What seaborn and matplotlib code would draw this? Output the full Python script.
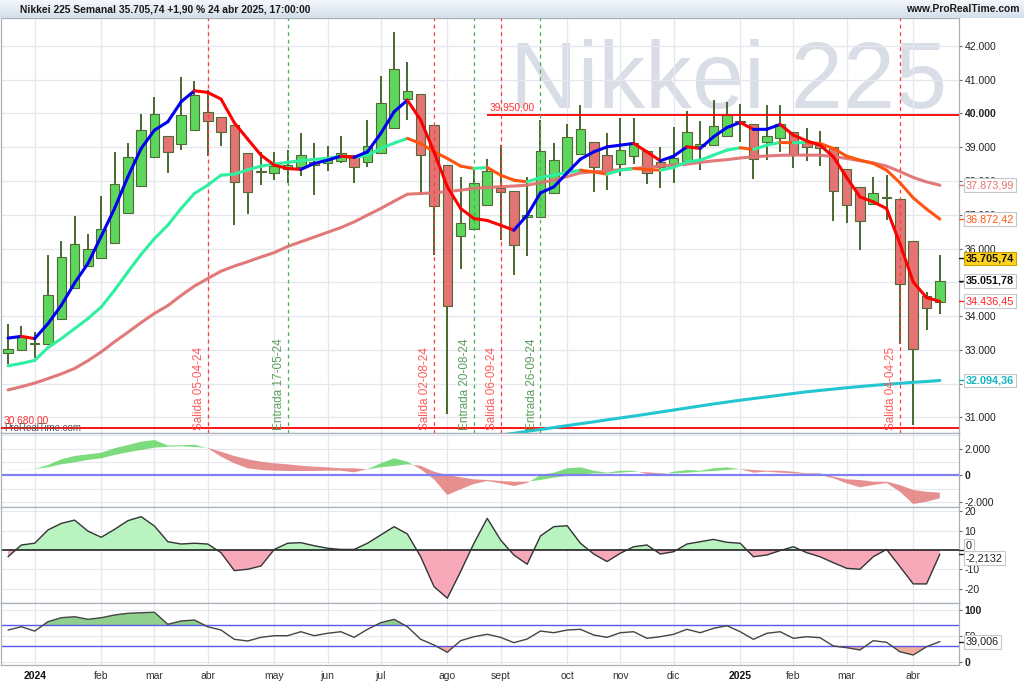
import numpy as np
import pandas as pd
import matplotlib
matplotlib.use("Agg")
import matplotlib.pyplot as plt
import matplotlib.transforms as mtransforms
from matplotlib.collections import LineCollection
from matplotlib.colors import LinearSegmentedColormap
import seaborn as sns

# semanas (lunes) del grafico, velas Heikin-Ashi leidas a ojo
weeks = pd.date_range("2023-12-18", "2025-04-21", freq="W-MON")

opens = [32907, 32987, 33170, 33185, 33926, 34844, 35485, 35733, 36166, 37055, 37855, 38696, 39327, 39090,
         39505, 40030, 39881, 39653, 38815, 38260, 38240, 38350, 38418, 38566, 38537, 38596, 38765, 38566,
         38815, 39556, 40424, 40572, 39653, 38468, 36364, 36572, 37283, 37796, 37707, 36919, 36936, 37630,
         38270, 38794, 39141, 38765, 38498, 38735, 38892, 38566, 38498, 38596, 39031, 39061, 39330, 39740,
         39674, 39159, 39259, 39455, 39141, 39061, 38993, 38341, 37807, 37304, 37490, 37481, 36216, 34596,
         34418]
highs = [33778, 33707, 33529, 35822, 36216, 36957, 36424, 37550, 38844, 39129, 39979, 40474, 39327, 41084,
         40966, 40690, 39881, 39653, 38815, 38844, 38844, 38913, 39425, 39129, 39031, 39327, 38765, 39801,
         41105, 42418, 41511, 40572, 39653, 38468, 38121, 38370, 38646, 39061, 37707, 38104, 39801, 39129,
         39674, 40246, 39141, 39425, 39852, 39852, 38892, 39011, 39603, 40077, 39781, 40394, 40330, 40276,
         39674, 40246, 40246, 39455, 39556, 39484, 38993, 38341, 37807, 38121, 38163, 37481, 36216, 34714,
         35822]
lows = [32572, 32960, 32759, 33185, 33926, 34844, 35485, 35733, 36166, 37055, 37855, 38696, 38222, 38913,
        39505, 38744, 39040, 36690, 37037, 37876, 38024, 37926, 38142, 37580, 38299, 38537, 37926, 38400,
        38815, 39556, 39801, 37580, 35801, 31111, 35407, 36572, 37283, 36246, 35209, 35781, 36936, 37630,
        38270, 38794, 37677, 37727, 38142, 38498, 37905, 37778, 37926, 38596, 38320, 39061, 39330, 39141,
        38044, 38616, 38862, 38370, 38596, 38439, 36818, 36770, 35950, 37304, 36859, 33185, 30765, 33600,
        34053]
closes = [33037, 33401, 33200, 34637, 35751, 36148, 35979, 36593, 37905, 38696, 39505, 39970, 38844, 39950,
          40542, 39772, 39437, 37973, 37659, 38280, 38447, 38468, 38765, 38468, 38637, 38815, 38418, 39040,
          40314, 41304, 40670, 38765, 37253, 34290, 36770, 37950, 38290, 37677, 36118, 37007, 38892, 38618,
          39307, 39526, 38400, 38240, 38913, 39129, 38240, 38400, 38684, 39455, 39081, 39633, 39950, 39760,
          38637, 39336, 39674, 38794, 39011, 38963, 37698, 37283, 36809, 37630, 37510, 34963, 33017, 34252,
          35051.78]

ma_fast = [33350, 33400, 33333, 33778, 34320, 34981, 35556, 36364, 37185, 38121, 38963, 39505, 39751, 40344,
           40670, 40622, 40424, 39721, 39240, 38765, 38468, 38370, 38341, 38519, 38616, 38735, 38700, 38862,
           39407, 40047, 40394, 39801, 38862, 37826, 37185, 36889, 36830, 36690, 36543, 36987, 37647, 37826,
           38240, 38646, 38862, 39010, 39061, 39111, 38862, 38596, 38735, 39010, 38963, 39307, 39580, 39733,
           39526, 39530, 39674, 39357, 39188, 39061, 38716, 38104, 37529, 37381, 37185, 36148, 35010, 34548,
           34436.45]
ma_mid = [32530, 32600, 32690, 33067, 33333, 33630, 33926, 34270, 34765, 35307, 35830, 36296, 36690, 37185,
          37630, 37876, 38172, 38200, 38330, 38440, 38500, 38550, 38600, 38640, 38670, 38735, 38700, 38760,
          38963, 39120, 39259, 39111, 38862, 38667, 38440, 38370, 38400, 38172, 38024, 37973, 38104, 38172,
          38252, 38320, 38270, 38201, 38320, 38370, 38341, 38320, 38400, 38566, 38616, 38765, 38913, 38982,
          38933, 39061, 39141, 39130, 39140, 39111, 38963, 38735, 38616, 38519, 38320, 37950, 37500, 37170,
          36872.42]
ma_slow = [31815, 31910, 32018, 32150, 32290, 32450, 32680, 32940, 33240, 33520, 33810, 34080, 34310, 34610,
           34890, 35111, 35330, 35480, 35610, 35750, 35880, 36060, 36200, 36340, 36480, 36620, 36788, 36990,
           37185, 37400, 37609, 37630, 37647, 37690, 37727, 37780, 37810, 37830, 37850, 37876, 37950, 38024,
           38130, 38240, 38270, 38299, 38335, 38370, 38405, 38439, 38470, 38498, 38550, 38596, 38630, 38680,
           38716, 38740, 38760, 38765, 38765, 38765, 38720, 38667, 38600, 38537, 38439, 38280, 38104, 37973,
           37873.99]
ma_long = [np.nan] * 37 + [30480, 30530, 30590, 30645, 30700, 30760, 30815, 30870, 30930, 30985, 31040, 31100,
                           31160, 31220, 31280, 31340, 31400, 31455, 31510, 31560, 31610, 31660, 31710, 31760,
                           31800, 31840, 31880, 31915, 31950, 31980, 32010, 32040, 32065, 32094.36]

macd_a = [410, 450, 485, 780, 1210, 1455, 1580, 1700, 2030, 2275, 2520, 2650, 2250, 2250, 2300, 2040, 1403,
          910, 537, 410, 358, 336, 336, 336, 358, 358, 240, 465, 910, 1283, 1030, 460, -285, -1455, -1030, -634,
          -410, -582, -785, -560, 37, 210, 537, 610, 358, 210, 358, 358, 112, 37, 285, 410, 358, 537, 610, 480,
          210, 285, 210, 160, 112, 37, -210, -582, -880, -709, -560, -1210, -2127, -1955, -1700]
macd_b = [400, 440, 480, 610, 835, 985, 1157, 1280, 1530, 1730, 1900, 2075, 2150, 2175, 2130, 2060, 1776,
          1455, 1210, 1030, 910, 835, 730, 660, 610, 537, 537, 455, 610, 709, 835, 730, 285, 37, -134, -285,
          -336, -410, -460, -460, -336, -160, -37, 37, 160, 160, 210, 285, 240, 160, 160, 210, 285, 336, 410, 490,
          410, 358, 358, 285, 160, 160, -90, -285, -336, -460, -460, -709, -1082, -1209, -1283]
momentum = [-3.5, 2.6, 3.5, 10.4, 13.8, 15.5, 9.8, 6.6, 10.7, 15.2, 17.3, 12.4, 4.3, 3.1, 3.5, 3.1, -1.4,
            -10.7, -10, -8.3, 0.3, 3.5, 3.8, 2.2, 0.9, 0.3, 0.3, 3.5, 7.8, 12.1, 8.3, -3.5, -19, -25, -11.2, 3.5,
            16.4, 5.2, -2.6, -7.4, 7.3, 12.1, 12.6, 3.5, -2.1, -6, -1.7, 1.7, 2.6, -2.1, -0.9, 3.1, 4.3, 5.5, 4,
            3.5, -3.5, -2.6, -0.3, 1.7, -1.4, -3.5, -6.6, -9.5, -10, -3.5, 0.3, -8.6, -17.6, -17.6, -2.2132]
rsi = [61, 67.3, 59, 76.9, 84.5, 86.4, 81.4, 84.5, 89.6, 92.9, 94, 94.8, 71.9, 78.2, 80.1, 67.3, 61, 43.3,
       40.1, 47.1, 50.2, 50.2, 57.8, 50.2, 54.8, 57.8, 47.1, 62.4, 75, 81.4, 67.3, 43.3, 32.5, 18.6, 40.7, 48.3,
       52.9, 47.1, 36.9, 43.9, 59.1, 55.9, 61, 62.4, 51.5, 47.1, 55.9, 57.8, 45.2, 48.3, 52.9, 62.4, 55.9, 64.3,
       69.3, 57.8, 43.3, 54.8, 57.8, 45.2, 48.3, 46.4, 30.6, 27.4, 23, 40.7, 37.6, 19.7, 13.4, 29.2, 39.006]

signal_dates = ["2024-04-05", "2024-05-17", "2024-08-02", "2024-08-20", "2024-09-06", "2024-09-26", "2025-04-04"]
signal_kind = ["Salida", "Entrada", "Salida", "Entrada", "Salida", "Entrada", "Salida"]

resistance = 39950.00
resistance_from = "2024-08-26"
support = 30680.00
last_price = 35705.74
title = "Nikkei 225 Semanal 35.705,74 +1,90 % 24 abr 2025, 17:00:00"
month_names = ["ene", "feb", "mar", "abr", "may", "jun", "jul", "ago", "sept", "oct", "nov", "dic"]


def es(v, d=0):
    s = f"{v:,.{d}f}"
    return s.replace(",", "_").replace(".", ",").replace("_", ".")


df = pd.DataFrame({"open": opens, "high": highs, "low": lows, "close": closes,
                   "ma_fast": ma_fast, "ma_mid": ma_mid, "ma_slow": ma_slow, "ma_long": ma_long,
                   "macd_a": macd_a, "macd_b": macd_b, "momentum": momentum, "rsi": rsi})
df["i"] = np.arange(len(df))
n = len(df)

sns.set_theme(style="white")
plt.rcParams["font.family"] = ["Liberation Sans", "DejaVu Sans"]

W, H = 1024, 683
fig = plt.figure(figsize=(W / 100, H / 100), dpi=100)


def panel(top, bottom):
    return fig.add_axes([1 / W, 1 - bottom / H, 958 / W, (bottom - top) / H])


ax0 = panel(18, 433)
ax1 = panel(433, 507)
ax2 = panel(507, 603)
ax3 = panel(603, 665)
xmin, xmax = -0.53, 71.44
grid_c = "#e4e7ee"

month_pos = [i for i in range(1, n) if weeks[i].month != weeks[i - 1].month]
month_lab = [str(weeks[i].year) if weeks[i].month == 1 else month_names[weeks[i].month - 1] for i in month_pos]


def tag(ax, v, text, color, fc="white", ec="#c4c8cc", bold=False, dy=0):
    tr = mtransforms.blended_transform_factory(ax.transAxes, ax.transData)
    ax.plot([1.0, 1.005], [v, v], transform=tr, color=color, lw=1, clip_on=False, zorder=6)
    ax.annotate(text, xy=(1.007, v), xycoords=tr, xytext=(0, dy), textcoords="offset points",
                ha="left", va="center", fontsize=7.8, color=color,
                fontweight="bold" if bold else "normal",
                bbox=dict(boxstyle="square,pad=0.18", fc=fc, ec=ec, lw=0.8),
                annotation_clip=False, zorder=7)


def two_tone(ax, y, c_up, c_dn, lw=2.2, z=5):
    y = np.asarray(y, float)
    pts = np.column_stack([df.i.values, y])
    segs = np.stack([pts[:-1], pts[1:]], axis=1)
    cols = [c_up if b >= a else c_dn for a, b in zip(y[:-1], y[1:])]
    ax.add_collection(LineCollection(segs, colors=cols, linewidths=lw, zorder=z,
                                     capstyle="round", joinstyle="round"))


# ---- panel principal ----
ax0.text(0.5313, 0.783, "Nikkei 225", transform=ax0.transAxes, fontsize=67.4, color="#d9dde6",
         ha="left", va="baseline", zorder=0)

up = df.close >= df.open
body_lo = np.minimum(df.open, df.close)
body_h = np.maximum((df.close - df.open).abs(), 25)
ax0.vlines(df.i, df.low, df.high, color="#3d5c1f", lw=1.3, zorder=2)
ax0.bar(df.i, body_h, bottom=body_lo, width=0.72, color=np.where(up, "#5dd65d", "#e57373"),
        edgecolor="#4f6b33", linewidth=0.8, zorder=2.5)

sns.lineplot(data=df, x="i", y="ma_slow", ax=ax0, color="#e07272", lw=2.2, alpha=0.95, zorder=4)
sns.lineplot(data=df, x="i", y="ma_long", ax=ax0, color="#22c6d0", lw=2.2, zorder=4)
two_tone(ax0, df.ma_mid, "#2ef0a0", "#ff5511")
two_tone(ax0, df.ma_fast, "#0000ee", "#ff0000")

i_res = weeks.searchsorted(pd.Timestamp(resistance_from))
ax0.hlines(resistance, i_res, xmax, color="#ff0000", lw=1.3, zorder=3)
ax0.text(i_res + 0.15, resistance + 70, es(resistance, 2), color="#ff3030", fontsize=7.3, va="bottom")
ax0.axhline(support, color="#ff0000", lw=1.3, zorder=3)
tr0 = mtransforms.blended_transform_factory(ax0.transAxes, ax0.transData)
ax0.text(0.003, support + 70, es(support, 2), transform=tr0, color="#ff3030", fontsize=7.3, va="bottom")
ax0.text(0.003, 0.0, "ProRealTime.com", transform=ax0.transAxes, color="#555555", fontsize=7, va="bottom")

for d, kind in zip(signal_dates, signal_kind):
    ts = pd.Timestamp(d)
    i = weeks.searchsorted(ts, side="right") - 1
    c_line = "#ff3b3b" if kind == "Salida" else "#4caf50"
    c_txt = "#ff5a5a" if kind == "Salida" else "#5c9e5c"
    ax0.axvline(i, color=c_line, lw=0.9, ls=(0, (3, 3)), zorder=4)
    ax0.text(i - 0.22, support - 55, f"{kind} {ts:%d-%m-%y}", rotation=90, ha="right", va="bottom",
             color=c_txt, fontsize=8.5, zorder=4)

ax0.set_ylim(30540, 42824)
yt = list(range(31000, 43000, 1000))
ax0.set_yticks(yt)
# 35.000 queda tapado por la etiqueta del cierre HA
ax0.set_yticklabels(["" if v == 35000 else es(v) for v in yt])

tag(ax0, df.ma_slow.iloc[-1], es(df.ma_slow.iloc[-1], 2), "#e07272")
tag(ax0, df.ma_mid.iloc[-1], es(df.ma_mid.iloc[-1], 2), "#ff5511")
tag(ax0, last_price, es(last_price, 2), "#111111", fc="#ffd21e", ec="#c9a400", bold=True)
tag(ax0, df.close.iloc[-1], es(df.close.iloc[-1], 2), "#111111", bold=True)
tag(ax0, df.ma_fast.iloc[-1], es(df.ma_fast.iloc[-1], 2), "#ff2020")
tag(ax0, df.ma_long.iloc[-1], es(df.ma_long.iloc[-1], 2), "#12b5c4", bold=True)

# ---- panel 1 ----
a = df.macd_a.values
b = df.macd_b.values
ax1.fill_between(df.i, a, b, where=a >= b, interpolate=True, color="#5cd45c", alpha=0.8, lw=0)
ax1.fill_between(df.i, a, b, where=a < b, interpolate=True, color="#e27474", alpha=0.8, lw=0)
for v in (-2000, -1000, 1000, 2000, 3000):
    ax1.axhline(v, color=grid_c, lw=0.8, zorder=0)
ax1.axhline(0, color="#8080f0", lw=1.6)
ax1.set_ylim(-2350, 3170)
ax1.set_yticks([2000, 0, -2000])
ax1.set_yticklabels([es(2000), "0", es(-2000)])

# ---- panel 2 ----
m = df.momentum.values
ax2.fill_between(df.i, m, 0, where=m >= 0, interpolate=True, color="#b9f3bf", lw=0)
ax2.fill_between(df.i, m, 0, where=m < 0, interpolate=True, color="#f8a9b9", lw=0)
sns.lineplot(data=df, x="i", y="momentum", ax=ax2, color="#333333", lw=1.0, zorder=4)
for v in (-20, -10, 10, 20):
    ax2.axhline(v, color=grid_c, lw=0.8, zorder=0)
ax2.axhline(0, color="#222222", lw=1.2)
ax2.set_ylim(-27.5, 22.3)
ax2.set_yticks([20, 10, -10, -20])
ax2.set_yticklabels(["20", "10", "-10", "-20"])
tag(ax2, 0, "0", "#222222", dy=3)
tag(ax2, df.momentum.iloc[-1], es(df.momentum.iloc[-1], 4), "#222222", dy=-3)

# ---- panel 3 ----
r = df.rsi.values
ax3.fill_between(df.i, r, 70, where=r >= 70, interpolate=True, color="#8fd08f", lw=0)
ax3.fill_between(df.i, r, 30, where=r <= 30, interpolate=True, color="#f2ad98", lw=0)
sns.lineplot(data=df, x="i", y="rsi", ax=ax3, color="#444444", lw=1.0, zorder=4)
for v in (0, 50, 100):
    ax3.axhline(v, color=grid_c, lw=0.8, zorder=0)
ax3.axhline(70, color="#5a5ae6", lw=1)
ax3.axhline(30, color="#5a5ae6", lw=1)
ax3.set_ylim(-5.6, 112.5)
ax3.set_yticks([100, 50, 0])
ax3.set_yticklabels(["100", "50", "0"])
tag(ax3, df.rsi.iloc[-1], es(df.rsi.iloc[-1], 3), "#222222")

for ax in (ax0, ax1, ax2, ax3):
    ax.set_xlim(xmin, xmax)
    ax.set_xlabel("")
    ax.set_ylabel("")
    ax.set_facecolor("white")
    ax.set_xticks(month_pos)
    ax.grid(axis="x", color=grid_c, lw=0.9)
    ax.yaxis.tick_right()
    ax.tick_params(axis="y", length=2.5, width=0.8, pad=1.5, labelsize=7.5, colors="#666666",
                   labelcolor="#222222")
    ax.tick_params(axis="x", length=0, labelbottom=False)
    for s in ax.spines.values():
        s.set_color("#a8b0b8")
        s.set_linewidth(0.9)
ax0.grid(axis="y", color=grid_c, lw=0.9)

for lab in ax0.get_yticklabels():
    if lab.get_text() == "40.000":
        lab.set_fontweight("bold")
ax1.get_yticklabels()[1].set_fontweight("bold")
ax3.get_yticklabels()[0].set_fontweight("bold")
ax3.get_yticklabels()[2].set_fontweight("bold")

ax3.tick_params(axis="x", labelbottom=True, pad=4, labelsize=7.5, labelcolor="#333333")
ax3.set_xticklabels(month_lab)
for lab in ax3.get_xticklabels():
    if lab.get_text().isdigit():
        lab.set_fontweight("bold")
        lab.set_color("#111111")

# ---- cabecera ----
hdr = fig.add_axes([0, 1 - 18 / H, 1, 18 / H])
grad = np.linspace(0, 1, 18)[:, None]
hdr.imshow(grad, extent=[0, W, 18, 0], aspect="auto",
           cmap=LinearSegmentedColormap.from_list("hdr", ["#f3f7fb", "#d3dfea"]))
hdr.set_xlim(0, W)
hdr.set_ylim(18, 0)
hdr.axis("off")
hdr.text(20, 9.5, title, fontsize=7.4, fontweight="bold", va="center", color="#1a1a1a")
hdr.text(1020, 9.5, "www.ProRealTime.com", fontsize=7.4, fontweight="bold", va="center", ha="right",
         color="#1a1a1a")

fig.savefig("out.png", dpi=100)
